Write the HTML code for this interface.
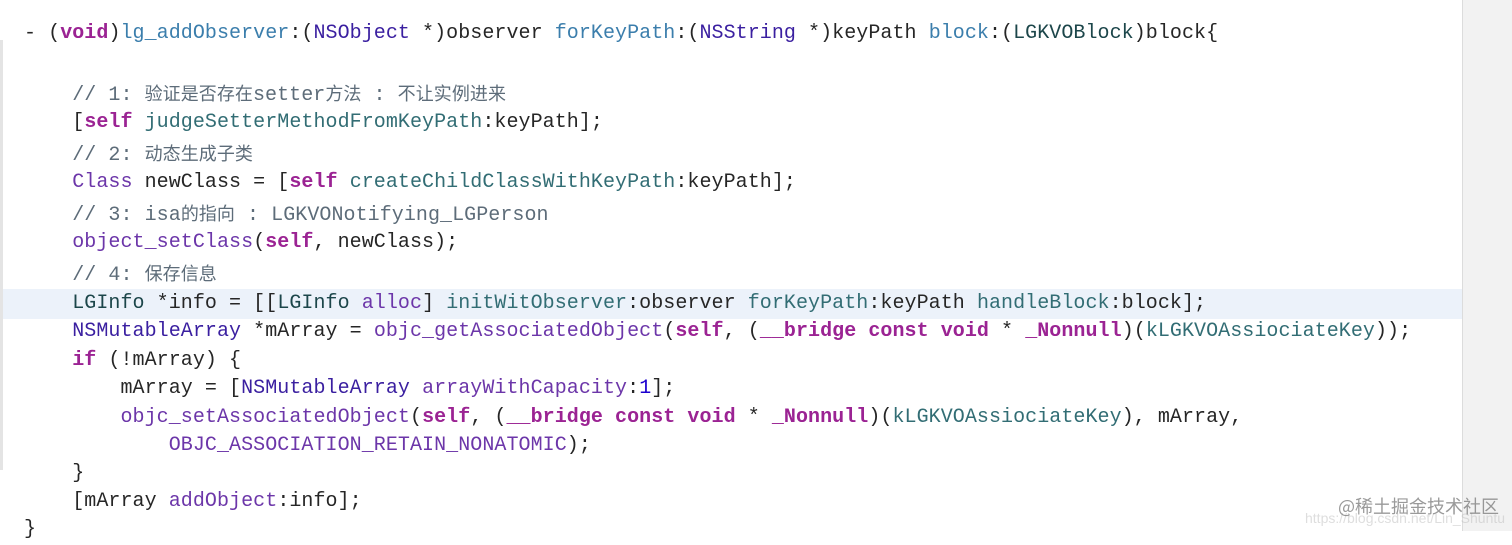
<!DOCTYPE html>
<html><head><meta charset="utf-8"><style>
html,body{margin:0;padding:0;}
body{width:1512px;height:531px;overflow:hidden;background:#fff;position:relative;
font-family:"Liberation Mono","Noto Sans CJK SC",monospace;font-size:20px;color:#262626;}
.l{position:absolute;left:24px;height:30px;line-height:30px;white-space:pre;letter-spacing:0.06px;}
.k{color:#9b2393;font-weight:bold;}
.d{color:#3b7eac;}
.s{color:#3a1fa0;}
.t{color:#1c464a;}
.m{color:#326d74;}
.p{color:#6c36a9;}
.c{color:#5d6c79;}
.n{color:#1c00cf;}
.cj{font-family:"Noto Sans CJK SC",sans-serif;font-size:18px;line-height:20px;}
#hl{position:absolute;left:0;top:289px;width:1462px;height:30px;background:#ecf2fa;}
#side{position:absolute;left:1462px;top:0;width:50px;height:531px;background:#f2f2f2;border-left:1px solid #dcdcdc;}
#lb{position:absolute;left:0;top:40px;width:3px;height:430px;background:#e4e4e4;}
#wm{position:absolute;left:1338px;top:493px;font-family:"Noto Sans CJK SC",sans-serif;font-size:18px;color:rgba(120,120,120,0.75);white-space:nowrap;}
#wm2{position:absolute;left:1305px;top:510px;font-family:"Liberation Sans",sans-serif;font-size:14px;color:rgba(190,190,190,0.5);white-space:nowrap;}
</style></head><body>
<div id="hl"></div>
<div id="side"></div>
<div id="lb"></div>
<div class="l" style="top:19px">- (<span class="k">void</span>)<span class="d">lg_addObserver</span>:(<span class="s">NSObject</span> *)observer <span class="d">forKeyPath</span>:(<span class="s">NSString</span> *)keyPath <span class="d">block</span>:(<span class="t">LGKVOBlock</span>)block{</div>
<div class="l c" style="top:81px">    // 1: <span class="cj">验证是否存在</span>setter<span class="cj">方法</span> : <span class="cj">不让实例进来</span></div>
<div class="l" style="top:108px">    [<span class="k">self</span> <span class="m">judgeSetterMethodFromKeyPath</span>:keyPath];</div>
<div class="l c" style="top:141px">    // 2: <span class="cj">动态生成子类</span></div>
<div class="l" style="top:168px">    <span class="p">Class</span> newClass = [<span class="k">self</span> <span class="m">createChildClassWithKeyPath</span>:keyPath];</div>
<div class="l c" style="top:201px">    // 3: isa<span class="cj">的指向</span> : LGKVONotifying_LGPerson</div>
<div class="l" style="top:228px">    <span class="p">object_setClass</span>(<span class="k">self</span>, newClass);</div>
<div class="l c" style="top:261px">    // 4: <span class="cj">保存信息</span></div>
<div class="l" style="top:289px">    <span class="t">LGInfo</span> *info = [[<span class="t">LGInfo</span> <span class="p">alloc</span>] <span class="m">initWitObserver</span>:observer <span class="m">forKeyPath</span>:keyPath <span class="m">handleBlock</span>:block];</div>
<div class="l" style="top:317px">    <span class="s">NSMutableArray</span> *mArray = <span class="p">objc_getAssociatedObject</span>(<span class="k">self</span>, (<span class="k">__bridge const void</span> * <span class="k">_Nonnull</span>)(<span class="m">kLGKVOAssiociateKey</span>));</div>
<div class="l" style="top:346px">    <span class="k">if</span> (!mArray) {</div>
<div class="l" style="top:374px">        mArray = [<span class="s">NSMutableArray</span> <span class="p">arrayWithCapacity</span>:<span class="n">1</span>];</div>
<div class="l" style="top:403px">        <span class="p">objc_setAssociatedObject</span>(<span class="k">self</span>, (<span class="k">__bridge const void</span> * <span class="k">_Nonnull</span>)(<span class="m">kLGKVOAssiociateKey</span>), mArray,</div>
<div class="l" style="top:431px">            <span class="p">OBJC_ASSOCIATION_RETAIN_NONATOMIC</span>);</div>
<div class="l" style="top:459px">    }</div>
<div class="l" style="top:487px">    [mArray <span class="p">addObject</span>:info];</div>
<div class="l" style="top:515px">}</div>
<div id="wm2">https://blog.csdn.net/Lin_Shuntu</div>
<div id="wm">@稀土掘金技术社区</div>
</body></html>
